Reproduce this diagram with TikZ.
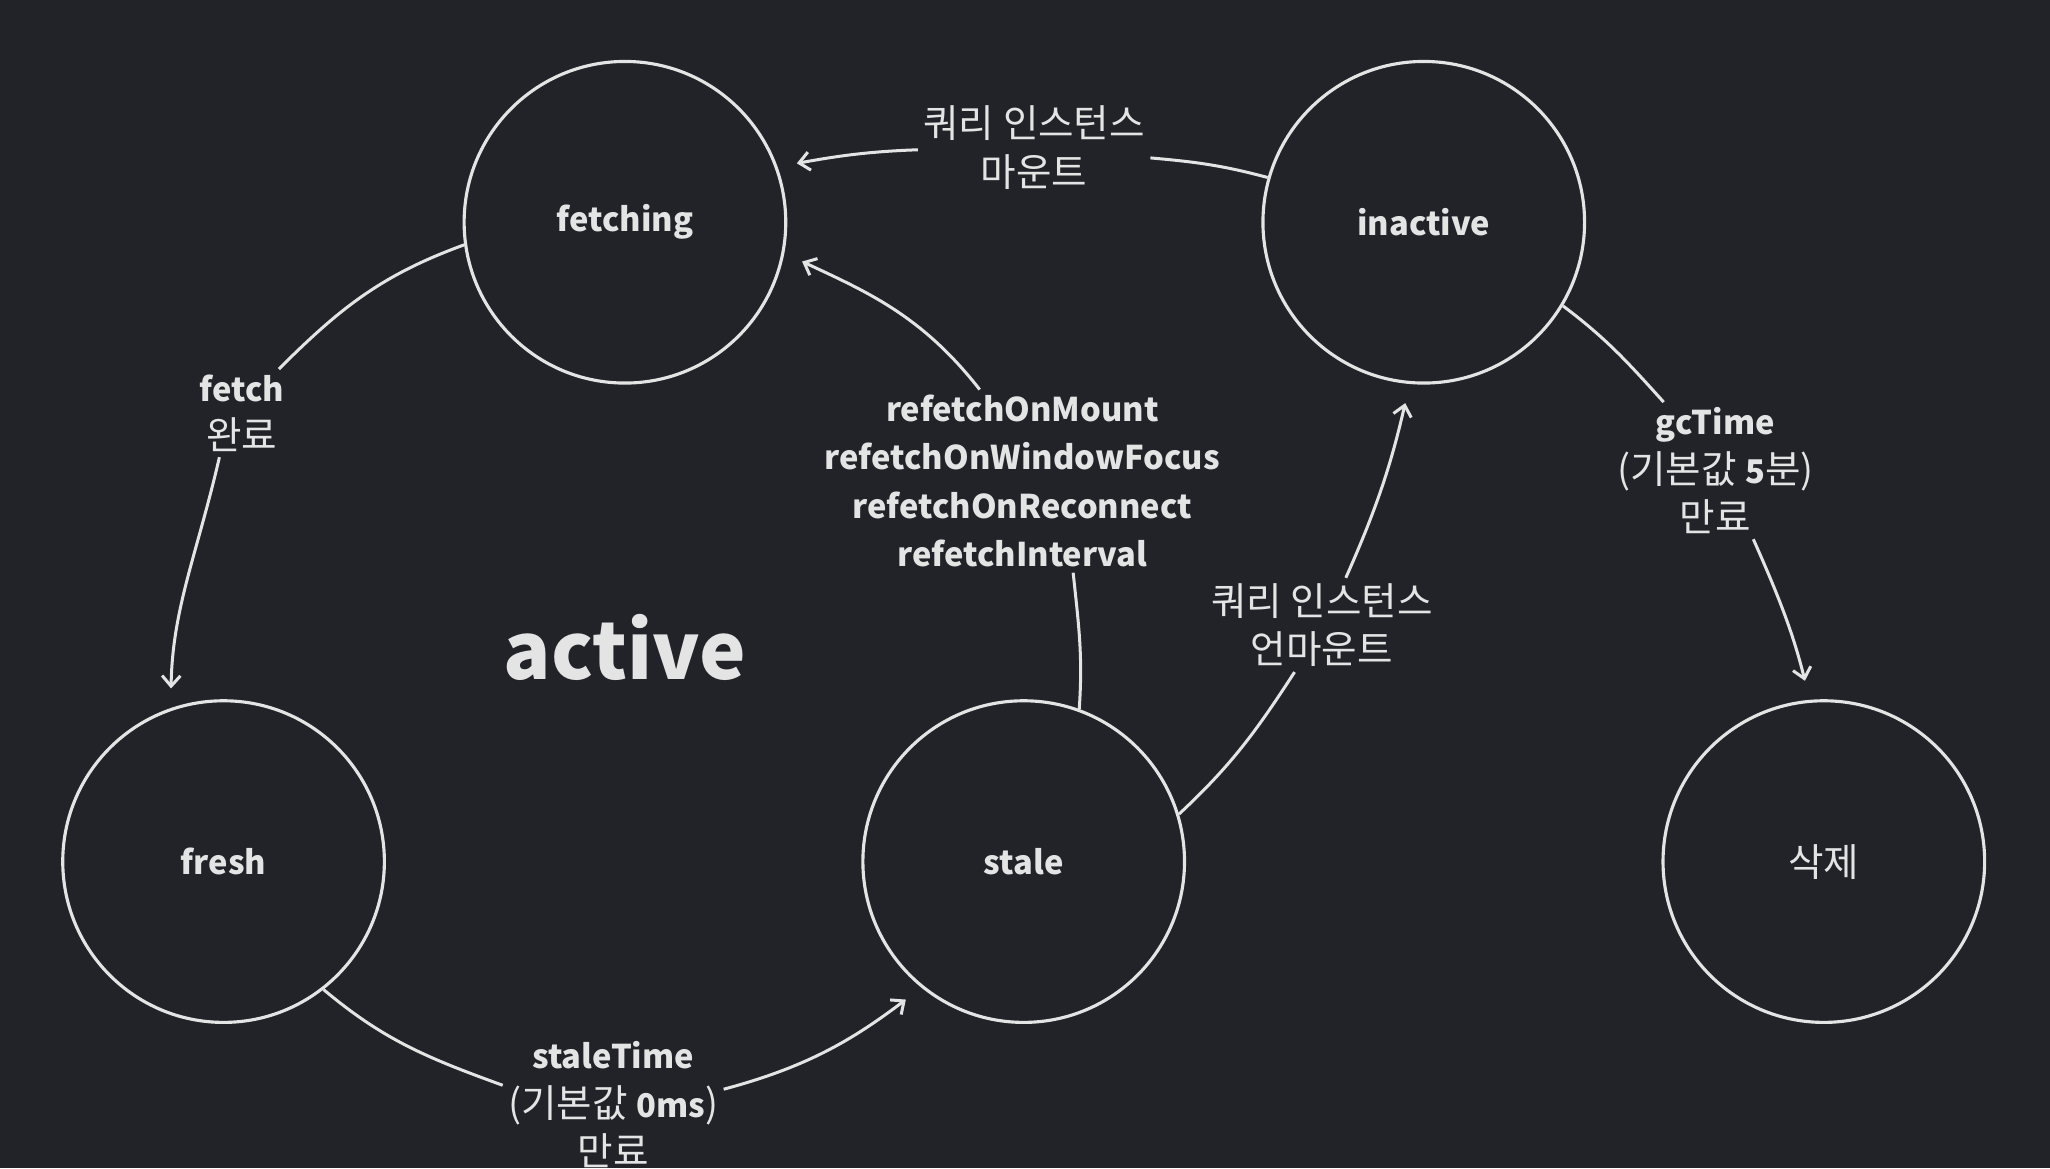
\documentclass[tikz,border=0pt]{standalone}
\usepackage{fontspec}
\setmainfont{Noto Sans CJK KR}
\usetikzlibrary{arrows.meta}
\definecolor{bg}{HTML}{212328}
\definecolor{fg}{HTML}{E4E4E4}
\newcommand\latb{\fontsize{25}{37}\selectfont\bfseries}
\newcommand\kor{\fontsize{29.5}{37}\selectfont\mdseries}
\begin{document}
\begin{tikzpicture}[x=1pt,y=-1pt,
  state/.style={circle,draw=fg,line width=2.4pt,minimum size=246pt,inner sep=0pt,text=fg,font=\latb},
  lbl/.style={align=center,text=fg,inner sep=4pt,font=\kor},
  conn/.style={draw=fg,line width=2.3pt},
  arr/.style={conn,-{Straight Barb[length=8pt,width=14pt]},shorten >=15pt},
]
\fill[bg] (0,0) rectangle (1568,893.4);
\useasboundingbox (0,0) rectangle (1568,893.4);

\node[state] (fetching) at (478,170) {fetching};
\node[state] (inactive) at (1089,170) {inactive};
\node[state] (fresh) at (171,659) {fresh};
\node[state] (stale) at (783,659) {stale};
\node[state,font=\kor] (del) at (1395,659) {삭제};

\node[text=fg,font=\fontsize{60}{72}\selectfont\bfseries] (active) at (478,495) {active};

\node[lbl] (L1) at (185,316) {{\latb fetch}\\완료};
\node[lbl] (L2) at (469,845) {{\latb staleTime}\\(기본값 {\latb 0ms})\\만료};
\node[lbl,font=\latb] (L3) at (782,368) {refetchOnMount\\refetchOnWindowFocus\\refetchOnReconnect\\refetchInterval};
\node[lbl] (L4) at (1011,478) {쿼리 인스턴스\\언마운트};
\node[lbl] (L5) at (791,113) {쿼리 인스턴스\\마운트};
\node[lbl] (L6) at (1312,360) {{\latb gcTime}\\(기본값 {\latb 5}분)\\만료};

% fetching -> fresh
\draw[conn] (fetching.188) to[out=200,in=45] (L1.50);
\draw[arr] (L1.243) to[out=257,in=89] (fresh.109);
% fresh -> stale
\draw[conn] (fresh.308) to[out=-40,in=160] (L2.170);
\draw[arr] (L2.8) to[out=15,in=217] (stale.231);
% stale -> fetching
\draw[conn] (stale.70) to[out=86,in=-84] (L3.-61);
\draw[arr] (L3.115) to[out=128,in=-25] (fetching.349);
% stale -> inactive
\draw[conn] (stale.17) to[out=43,in=237] (L4.240);
\draw[arr] (L4.63) to[out=66,in=257] (inactive.265);
% inactive -> fetching
\draw[conn] (inactive.164) to[out=165,in=-5] (L5.-5);
\draw[arr] (L5.181) to[out=182,in=10] (fetching.20);
% inactive -> del
\draw[conn] (inactive.329) to[out=-37,in=132] (L6.127);
\draw[arr] (L6.-61) to[out=-66,in=104] (del.95);
\end{tikzpicture}
\end{document}
